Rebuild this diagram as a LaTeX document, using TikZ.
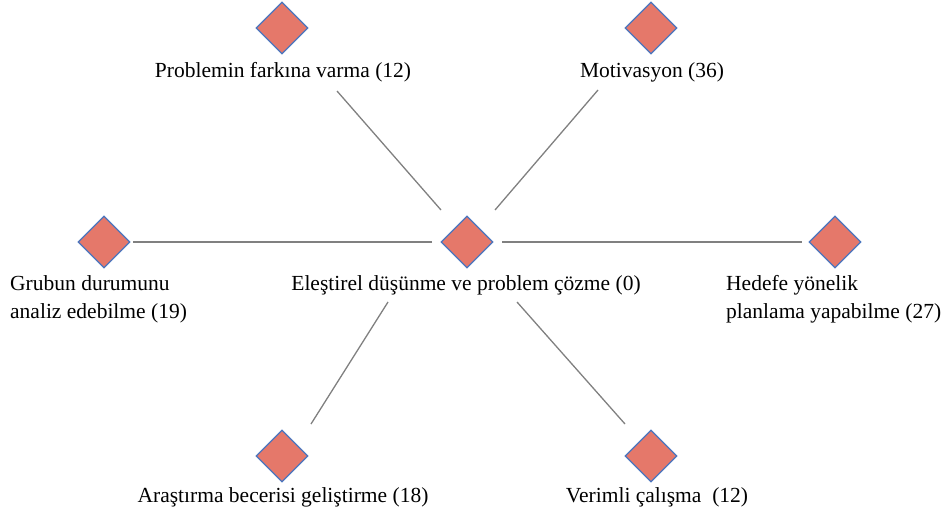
\documentclass[tikz,border=0pt]{standalone}
\usepackage{fontspec}
\setmainfont{Liberation Serif}
\usetikzlibrary{shapes.geometric}
\definecolor{diafill}{HTML}{E5786A}
\definecolor{diaedge}{HTML}{4A76BF}
\definecolor{linkgray}{HTML}{808080}
\begin{document}
\begin{tikzpicture}[x=1pt,y=-1pt,
  item/.style={diamond,draw=diaedge,fill=diafill,line width=1.3pt,
    minimum width=52pt,minimum height=52pt,inner sep=0pt},
  label/.style={font=\fontsize{21.5}{28}\selectfont,inner sep=0pt,anchor=base},
  lbl/.style={font=\fontsize{21.5}{28}\selectfont,inner sep=0pt,anchor=base west,align=left},
  link/.style={draw=linkgray,line width=1.3pt}]
\useasboundingbox (0,0) rectangle (947,516);

% diamonds
\node[item] (c)  at (467,242) {};
\node[item] (tl) at (282,28) {};
\node[item] (tr) at (651,28) {};
\node[item] (l)  at (104,242) {};
\node[item] (r)  at (835,242) {};
\node[item] (bl) at (282,456) {};
\node[item] (br) at (651,456) {};

% texts
\node[label] (tlt) at (283,78) {Problemin farkına varma (12)};
\node[label] (trt) at (652,78) {Motivasyon (36)};
\node[label] (ct)  at (466,290) {Eleştirel düşünme ve problem çözme (0)};
\node[lbl] (lt) at (10,290) {Grubun durumunu};
\node[lbl] (lt2) at (10,318) {analiz edebilme (19)};
\node[lbl] (rt) at (726,290) {Hedefe yönelik};
\node[lbl] (rt2) at (726,318) {planlama yapabilme (27)};
\node[label] (blt) at (283,502) {Araştırma becerisi geliştirme (18)};
\node[label] (brt) at (657,502) {Verimli çalışma~~(12)};

% connectors
\coordinate (a1) at (441,210); \coordinate (a2) at (337,91);
\coordinate (b1) at (495,210); \coordinate (b2) at (598,90);
\coordinate (c1) at (432,242); \coordinate (c2) at (133,242);
\coordinate (d1) at (502,242); \coordinate (d2) at (802,242);
\coordinate (e1) at (388,302); \coordinate (e2) at (311,424);
\coordinate (f1) at (517,302); \coordinate (f2) at (625,424);
\draw[link] (a1) -- (a2);
\draw[link] (b1) -- (b2);
\draw[link] (c1) -- (c2);
\draw[link] (d1) -- (d2);
\draw[link] (e1) -- (e2);
\draw[link] (f1) -- (f2);
\end{tikzpicture}
\end{document}
